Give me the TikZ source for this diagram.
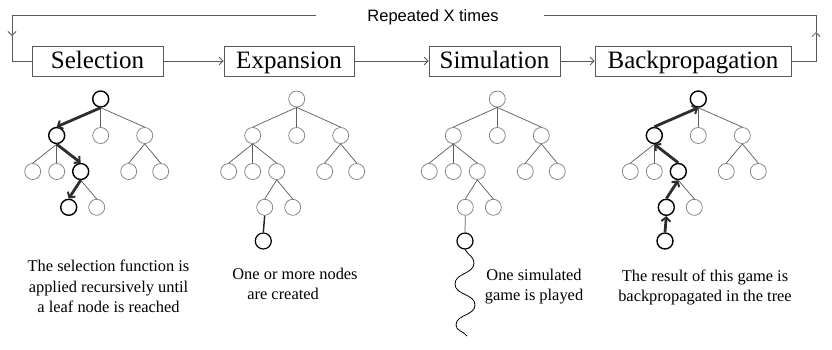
\documentclass[tikz,border=0pt]{standalone}
\usepackage{fontspec}
\setmainfont{Liberation Serif}
\newfontfamily\helv{Liberation Sans}
\usetikzlibrary{arrows.meta}
\newcommand\mctsnodes[6]{%
  \node[#3] (#1r) at (#2,99) {};
  \node[#4] (#1L) at (#2-44,135.5) {};
  \node[tn] (#1M) at (#2,135.5) {};
  \node[tn] (#1R) at (#2+44,135.5) {};
  \node[tn] (#1a) at (#2-68,171.5) {};
  \node[tn] (#1b) at (#2-44,171.5) {};
  \node[#5] (#1c) at (#2-20,171.5) {};
  \node[tn] (#1d) at (#2+28,171.5) {};
  \node[tn] (#1e) at (#2+60,171.5) {};
  \node[#6] (#1f) at (#2-32,207.3) {};
  \node[tn] (#1g) at (#2-4,207.3) {};
  \foreach \p/\c in {r/M,r/R,L/a,L/b,R/d,R/e,c/g}
    \draw[te] (#1\p.south) -- (#1\c.north);
}
\begin{document}
\begin{tikzpicture}[x=1pt,y=-1pt,
  stepbox/.style={draw=black!65, line width=0.8pt, minimum height=30pt, inner sep=0pt,
    text height=18pt, text depth=3.4pt, font=\fontsize{25}{30}\selectfont},
  flow/.style={draw=black!65, line width=0.8pt},
  flowarr/.style={flow, -{Straight Barb[length=4pt,width=8pt]}},
  tn/.style={circle, draw=black!50, line width=0.75pt, minimum size=16pt, inner sep=0pt},
  bn/.style={tn, draw=black, line width=1.4pt},
  te/.style={draw=black!62, line width=0.75pt},
  me/.style={draw=black!85, line width=1.5pt},
  be/.style={draw=black!82, line width=2.8pt, -{Straight Barb[length=4pt,width=9pt,line width=2pt]}},
  note/.style={font=\fontsize{16.4}{20.5}\selectfont, align=center, inner sep=0pt, anchor=north}
]
\useasboundingbox (0,0) rectangle (832,349);

% process boxes
\node[stepbox, minimum width=131pt] (sel) at (97.5,61) {Selection};
\node[stepbox, minimum width=130pt] (exp) at (289,61) {Expansion};
\node[stepbox, minimum width=131pt] (sim) at (494.5,61) {Simulation};
\node[stepbox, minimum width=196pt] (bp) at (693,61) {Backpropagation};
\draw[flowarr] (sel) -- (exp);
\draw[flowarr] (exp) -- (sim);
\draw[flowarr] (sim) -- (bp);

% repeat loop
\node[font=\helv\fontsize{16.5}{20}\selectfont, inner sep=0pt, anchor=base] (rep) at (433,21) {Repeated X times};
\coordinate (tgl) at (316,15.5);
\coordinate (tgr) at (544,15.5);
\coordinate (tl) at (12,15.5);
\coordinate (ldn) at (12,36);
\coordinate (lb) at (12,61);
\coordinate (rb) at (816,61);
\coordinate (rup) at (816,32);
\coordinate (tr) at (816,15.5);
\draw[flowarr] (tgl) -- (tl) -- (ldn);
\draw[flow] (ldn) -- (lb) -- (sel.west);
\draw[flowarr] (bp.east) -- (rb) -- (rup);
\draw[flow] (rup) -- (tr) -- (tgr);

% Selection tree
\mctsnodes{S}{100.7}{bn}{bn}{bn}{bn}
\draw[be] (Sr.south) -- (SL.north);
\draw[be] (SL.south) -- (Sc.north);
\draw[be] (Sc.south) -- (Sf.north);

% Expansion tree
\mctsnodes{E}{296.7}{tn}{tn}{tn}{tn}
\node[bn, line width=1.2pt] (Eh) at (296.7-33.4,241) {};
\draw[te] (Er.south) -- (EL.north);
\draw[te] (EL.south) -- (Ec.north);
\draw[te] (Ec.south) -- (Ef.north);
\draw[me] (Ef.south) -- (Eh.north);

% Simulation tree
\mctsnodes{M}{497.3}{tn}{tn}{tn}{tn}
\node[bn, line width=1.2pt] (Mh) at (497.3-32.3,241) {};
\draw[te] (Mr.south) -- (ML.north);
\draw[te] (ML.south) -- (Mc.north);
\draw[te] (Mc.south) -- (Mf.north);
\draw[te] (Mf.south) -- (Mh.north);
\coordinate (w1) at (474,263);
\coordinate (w2) at (455,284);
\coordinate (w3) at (475,305);
\coordinate (w4) at (456,325);
\coordinate (w5) at (467,336);
\draw[black, line width=0.8pt] (Mh.south) to[out=-60,in=90] (w1) to[out=-90,in=90] (w2)
  to[out=-90,in=90] (w3) to[out=-90,in=90] (w4) to[out=-90,in=125] (w5);

% Backpropagation tree
\mctsnodes{B}{698.3}{bn}{bn}{bn}{bn}
\node[bn] (Bh) at (698.3-33.3,241) {};
\draw[be] (Bh.north) -- (Bf.south);
\draw[be] (Bf.north) -- (Bc.south);
\draw[be] (Bc.north) -- (BL.south);
\draw[be] (BL.north) -- (Br.south);

% notes
\node[note] (nsel) at (108.5,260) {The selection function is\\applied recursively until\\a leaf node is reached};
\node[note, align=left] (nexp) at (295,267.8) {One or more nodes\\\hspace*{15pt}are created};
\node[note] (nsim) at (534,268.8) {One simulated\\game is played};
\node[note] (nbp) at (705,269.5) {The result of this game is\\backpropagated in the tree};
\end{tikzpicture}
\end{document}
